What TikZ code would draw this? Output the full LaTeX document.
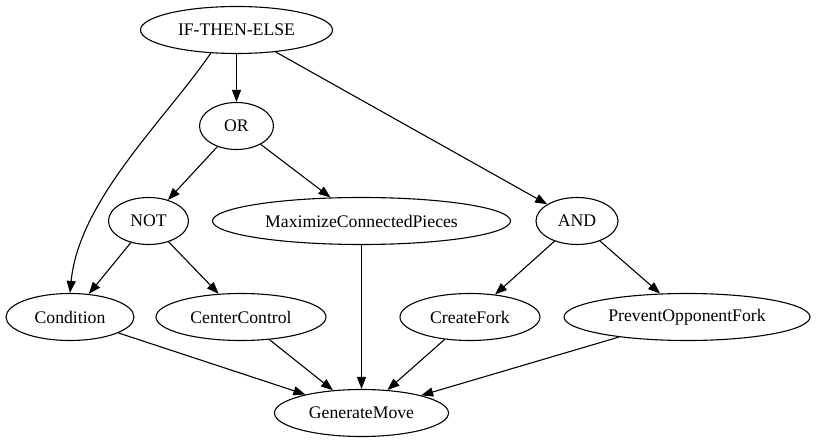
\documentclass[tikz,border=0pt]{standalone}
\usepackage{fontspec}
\setmainfont{Liberation Serif}
\usetikzlibrary{shapes.geometric,arrows.meta}
\begin{document}
\begin{tikzpicture}[x=1pt,y=1pt,
    vertex/.style={draw,ellipse,line width=1.1pt,inner sep=0pt,minimum height=47pt,
      font=\fontsize{17.7}{20}\selectfont},
    edge/.style={-{Triangle[length=12pt,width=9pt]},line width=1.1pt}]
        \useasboundingbox (0,0) rectangle (817,-443);

        % draw nodes
        \node[vertex,minimum width=192pt] (ite) at (236.5,-30) {IF-THEN-ELSE};
        \node[vertex,minimum width=74pt] (or) at (236.5,-126) {OR};
        \node[vertex,minimum width=80pt] (not) at (148.5,-221) {NOT};
        \node[vertex,minimum width=298pt] (maxcp) at (361.5,-221) {MaximizeConnectedPieces};
        \node[vertex,minimum width=82pt] (and) at (577,-221) {AND};
        \node[vertex,minimum width=128pt] (cond) at (70,-317) {Condition};
        \node[vertex,minimum width=170pt] (center) at (241,-317) {CenterControl};
        \node[vertex,minimum width=140pt] (fork) at (470,-317) {CreateFork};
        \node[vertex,minimum width=246pt] (prevent) at (687,-317) {PreventOpponentFork};
        \node[vertex,minimum width=174pt] (move) at (361.5,-413) {GenerateMove};

        % draw edges
        \draw[edge] (ite) -- (or);
        \draw[edge] (ite.-138) .. controls (165,-120) and (79,-200) .. (cond.north);
        \draw[edge] (ite) -- (and);
        \draw[edge] (or) -- (not);
        \draw[edge] (or) -- (maxcp);
        \draw[edge] (not) -- (cond);
        \draw[edge] (not) -- (center);
        \draw[edge] (and) -- (fork);
        \draw[edge] (and) -- (prevent);
        \draw[edge] (maxcp) -- (move);
        \foreach \n in {cond,center,fork,prevent}
          \draw[edge] (\n) -- (move);
\end{tikzpicture}
\end{document}
